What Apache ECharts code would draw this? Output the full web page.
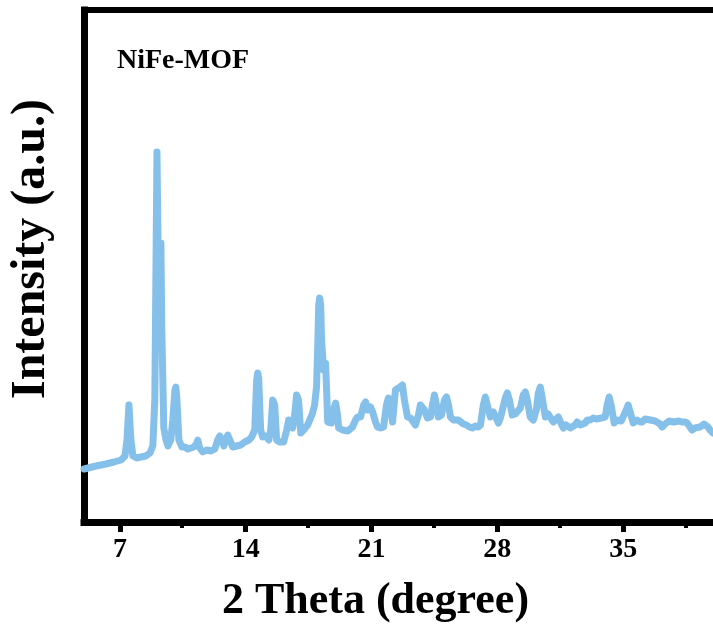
<!DOCTYPE html>
<html>
<head>
<meta charset="utf-8">
<script src="https://cdn.jsdelivr.net/npm/echarts@6/dist/echarts.min.js"></script>
<style>html,body{margin:0;padding:0;background:#fff}#chart{width:713px;height:641px}</style>
</head>
<body>
<div id="chart"></div>
<script>
// 2θ positions (degree)
const twoTheta = [5.00,5.11,5.67,6.22,6.67,7.06,7.28,7.39,7.50,7.61,7.72,7.94,8.17,8.44,8.67,8.83,8.94,9.06,9.11,9.17,9.22,9.28,9.33,9.44,9.56,9.67,9.83,9.94,10.06,10.11,10.17,10.28,10.44,10.61,10.78,10.94,11.11,11.28,11.33,11.44,11.61,11.83,12.06,12.28,12.44,12.56,12.67,12.78,12.89,13.00,13.11,13.28,13.50,13.72,13.94,14.17,14.33,14.50,14.61,14.67,14.72,14.83,14.94,15.11,15.28,15.39,15.50,15.56,15.61,15.72,15.89,16.11,16.28,16.39,16.50,16.61,16.72,16.83,16.89,16.94,17.06,17.22,17.44,17.61,17.72,17.83,17.94,18.00,18.06,18.11,18.17,18.22,18.33,18.44,18.50,18.56,18.78,18.89,19.00,19.11,19.17,19.39,19.67,19.94,20.11,20.22,20.39,20.56,20.67,20.78,20.94,21.06,21.22,21.33,21.50,21.67,21.83,21.94,22.06,22.17,22.28,22.33,22.44,22.50,22.61,22.72,22.83,23.00,23.17,23.28,23.44,23.61,23.72,23.83,23.94,24.11,24.28,24.39,24.50,24.61,24.72,24.89,25.06,25.17,25.28,25.39,25.56,25.67,25.83,25.94,26.11,26.28,26.44,26.61,26.78,26.94,27.06,27.22,27.33,27.44,27.61,27.78,27.94,28.06,28.17,28.28,28.44,28.56,28.67,28.83,29.00,29.11,29.28,29.44,29.56,29.67,29.83,30.00,30.17,30.28,30.39,30.50,30.67,30.83,30.94,31.11,31.22,31.39,31.56,31.67,31.83,31.94,32.06,32.17,32.33,32.44,32.61,32.72,32.89,33.00,33.17,33.33,33.50,33.61,33.78,34.00,34.11,34.22,34.33,34.50,34.61,34.72,34.89,35.00,35.17,35.28,35.39,35.56,35.67,35.78,35.94,36.06,36.22,36.33,36.50,36.61,36.78,36.89,37.06,37.17,37.33,37.44,37.56,37.67,37.83,37.94,38.11,38.28,38.44,38.56,38.72,38.83,39.00,39.11,39.28,39.39,39.50,39.61,39.72,39.83,40.00];
// Intensity (a.u.)
const intensity = [53,54,56,58,60,62,66,82,117,82,66,64,65,66,69,76,122,370,292,222,272,279,192,94,82,76,82,102,132,135,122,82,75,75,73,74,75,79,82,74,70,72,71,73,82,86,82,76,82,87,82,75,76,77,80,82,85,92,142,149,144,92,85,86,82,92,122,124,117,82,80,80,92,102,97,94,107,127,129,122,89,92,97,104,109,117,135,172,217,224,217,182,152,159,132,100,99,112,119,107,94,92,91,95,102,105,105,117,120,112,115,110,100,95,94,95,117,124,117,100,122,132,130,134,134,137,122,105,104,102,97,107,117,119,112,104,105,117,127,117,105,107,122,125,117,105,102,100,102,102,98,97,95,94,96,95,97,117,125,117,105,110,104,99,104,112,124,129,122,107,108,107,114,127,130,122,105,102,112,129,135,124,105,108,110,100,102,105,98,94,97,97,94,92,97,100,97,95,99,102,102,104,103,102,104,105,117,125,117,99,102,104,101,102,112,117,110,99,101,102,100,100,103,105,102,100,101,102,98,95,98,99,101,102,100,99,101,100,100,99,95,92,94,94,95,95,98,99,95,92,89];
const majorTicks = [7, 14, 21, 28, 35];
const minorTicks = [10.5, 17.5, 24.5, 31.5, 38.5];
const sampleLabel = 'NiFe-MOF';
const xTitle = '2 Theta (degree)';
const yTitle = 'Intensity (a.u.)';

const FONT = '"Liberation Serif", "Times New Roman", serif';
const seriesData = twoTheta.map((x, i) => [x, intensity[i]]);
const gridPos = { left: 83, top: 10, width: 630, height: 512 };

const chart = echarts.init(document.getElementById('chart'), null, { renderer: 'canvas' });
chart.setOption({
  animation: false,
  backgroundColor: '#fff',
  title: {
    text: sampleLabel, left: 112, top: 42,
    textStyle: { fontFamily: FONT, fontWeight: 'bold', fontSize: 28, color: '#000' }
  },
  grid: [Object.assign({}, gridPos), Object.assign({}, gridPos)],
  xAxis: [
    {
      gridIndex: 0, type: 'value', min: 5, max: 40, position: 'bottom',
      axisLine: { lineStyle: { color: '#000', width: 7, cap: 'square' } },
      axisTick: { customValues: majorTicks, length: 10, lineStyle: { color: '#000', width: 5 } },
      axisLabel: { customValues: majorTicks, margin: 14, fontFamily: FONT, fontWeight: 'bold', fontSize: 28, color: '#000' },
      splitLine: { show: false },
      name: xTitle, nameLocation: 'middle', nameGap: 58,
      nameTextStyle: { fontFamily: FONT, fontWeight: 'bold', fontSize: 44, color: '#000', padding: [0, 46, 0, 0] }
    },
    {
      gridIndex: 0, type: 'value', min: 5, max: 40, position: 'top',
      axisLine: { lineStyle: { color: '#000', width: 6, cap: 'square' } },
      axisTick: { show: false }, axisLabel: { show: false }, splitLine: { show: false }
    },
    {
      gridIndex: 1, type: 'value', min: 5, max: 40, position: 'bottom',
      axisLine: { show: false },
      axisTick: { customValues: minorTicks, length: 6, lineStyle: { color: '#000', width: 4 } },
      axisLabel: { show: false }, splitLine: { show: false }
    }
  ],
  yAxis: [
    {
      gridIndex: 0, type: 'value', min: 0, max: 512,
      axisLine: { show: true, lineStyle: { color: '#000', width: 7, cap: 'square' } },
      axisTick: { show: false }, axisLabel: { show: false }, splitLine: { show: false },
      name: yTitle, nameLocation: 'middle', nameGap: 28, nameRotate: 90,
      nameTextStyle: { fontFamily: FONT, fontWeight: 'bold', fontSize: 48, color: '#000', padding: [0, 0, 0, 34] }
    },
    {
      gridIndex: 1, type: 'value', min: 0, max: 512, show: false
    }
  ],
  series: [{
    type: 'line', xAxisIndex: 0, yAxisIndex: 0,
    data: seriesData, showSymbol: false, smooth: false,
    lineStyle: { color: '#85C0EA', width: 7, join: 'round', cap: 'round' }
  }]
});
</script>
</body>
</html>
